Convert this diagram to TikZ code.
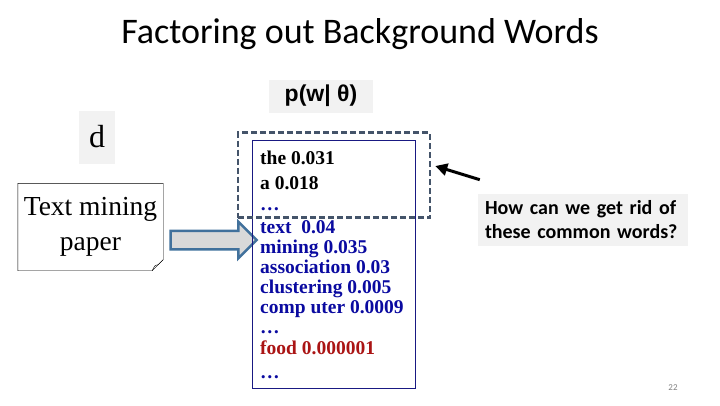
\documentclass[tikz,border=0pt]{standalone}
\usepackage{fontspec}
\setmainfont{Liberation Serif}
\newfontfamily\calibri{Carlito}
\newfontfamily\arial{Liberation Sans}
\usetikzlibrary{shapes.arrows,arrows.meta}

\definecolor{fondgris}{RGB}{242,242,242}
\definecolor{motbleu}{RGB}{10,10,160}
\definecolor{motrouge}{RGB}{170,20,20}
\definecolor{bordbleu}{RGB}{25,25,130}
\definecolor{tirets}{RGB}{68,84,106}
\definecolor{flechebord}{RGB}{65,113,156}
\definecolor{flechefond}{RGB}{217,217,217}

\begin{document}
\begin{tikzpicture}[x=1pt,y=-1pt]
		\tikzstyle{mot} = [anchor=base west,inner sep=0pt,font=\fontsize{19.5}{20}\selectfont\bfseries]
		\tikzstyle{grisbox} = [fill=fondgris,inner sep=4pt]
		\tikzstyle{fleche} = [-{Triangle[length=12pt,width=12pt]},line width=3pt]
		
		\useasboundingbox (0,0) rectangle (720,405);
		
		\node[font=\calibri\fontsize{36}{40}\selectfont](titre) at (360,34) {Factoring out Background Words};
		
		% document
		\node[grisbox,font=\fontsize{32}{34}\selectfont,minimum width=36pt,minimum height=53pt](d) at (97,137) {d};
		\node[minimum width=145pt,minimum height=87pt,align=center,font=\fontsize{27.5}{35}\selectfont](papier) at (90.5,227) {Text mining\\paper};
		\draw[thin] (papier.north west) -- (papier.north east) -- ([yshift=11pt]papier.south east)
		  -- ([xshift=-11pt]papier.south east) -- (papier.south west) -- cycle;
		\draw[thin] ([xshift=-11pt]papier.south east) .. controls ([xshift=-8pt,yshift=6pt]papier.south east) .. ([xshift=-5pt,yshift=6pt]papier.south east)
		  -- ([yshift=11pt]papier.south east);
		
		\node[single arrow,draw=flechebord,fill=flechefond,line width=2.5pt,inner sep=8pt,
		  minimum width=36pt,minimum height=86pt,single arrow head extend=9pt](grosse) at (209,240) {};
		
		% modele
		\node[grisbox,font=\arial\fontsize{23}{26}\selectfont\bfseries,minimum width=104pt,minimum height=33pt](theta) at (321,96) {p(w| θ)};
		\node[draw=bordbleu,thick,minimum width=163pt,minimum height=248pt](liste) at (334,264) {};
		\node[draw=tirets,line width=2.5pt,dash pattern=on 6pt off 3pt,minimum width=192pt,minimum height=85pt](commun) at (334,175) {};
		
		\node[mot](the) at (260,164) {the 0.031};
		\node[mot](a) at (260,189) {a 0.018};
		\node[mot,text=motbleu](p1) at (260,210) {\dots};
		\node[mot,text=motbleu](text) at (260,233) {text~~0.04};
		\node[mot,text=motbleu](mining) at (260,253) {mining 0.035};
		\node[mot,text=motbleu](assoc) at (260,273) {association 0.03};
		\node[mot,text=motbleu](clust) at (260,293) {clustering 0.005};
		\node[mot,text=motbleu](comp) at (260,313) {comp uter 0.0009};
		\node[mot,text=motbleu](p2) at (260,333) {\dots};
		\node[mot,text=motrouge](food) at (260,354) {food 0.000001};
		\node[mot,text=motbleu](p3) at (260,378) {\dots};
		
		% question
		\node[grisbox,inner sep=7pt,align=left,text width=196pt,font=\calibri\fontsize{20}{24}\selectfont\bfseries,minimum height=46pt](question) at (583,220) {How can we get rid of\\these common words?};
		\draw[fleche] ([shift={(2,-14)}]question.north west) -- ([shift={(4,-9)}]commun.east);
		
		\node[text=gray,font=\calibri\fontsize{9}{10}\selectfont](page) at (673,388) {22};
		\end{tikzpicture}
\end{document}
